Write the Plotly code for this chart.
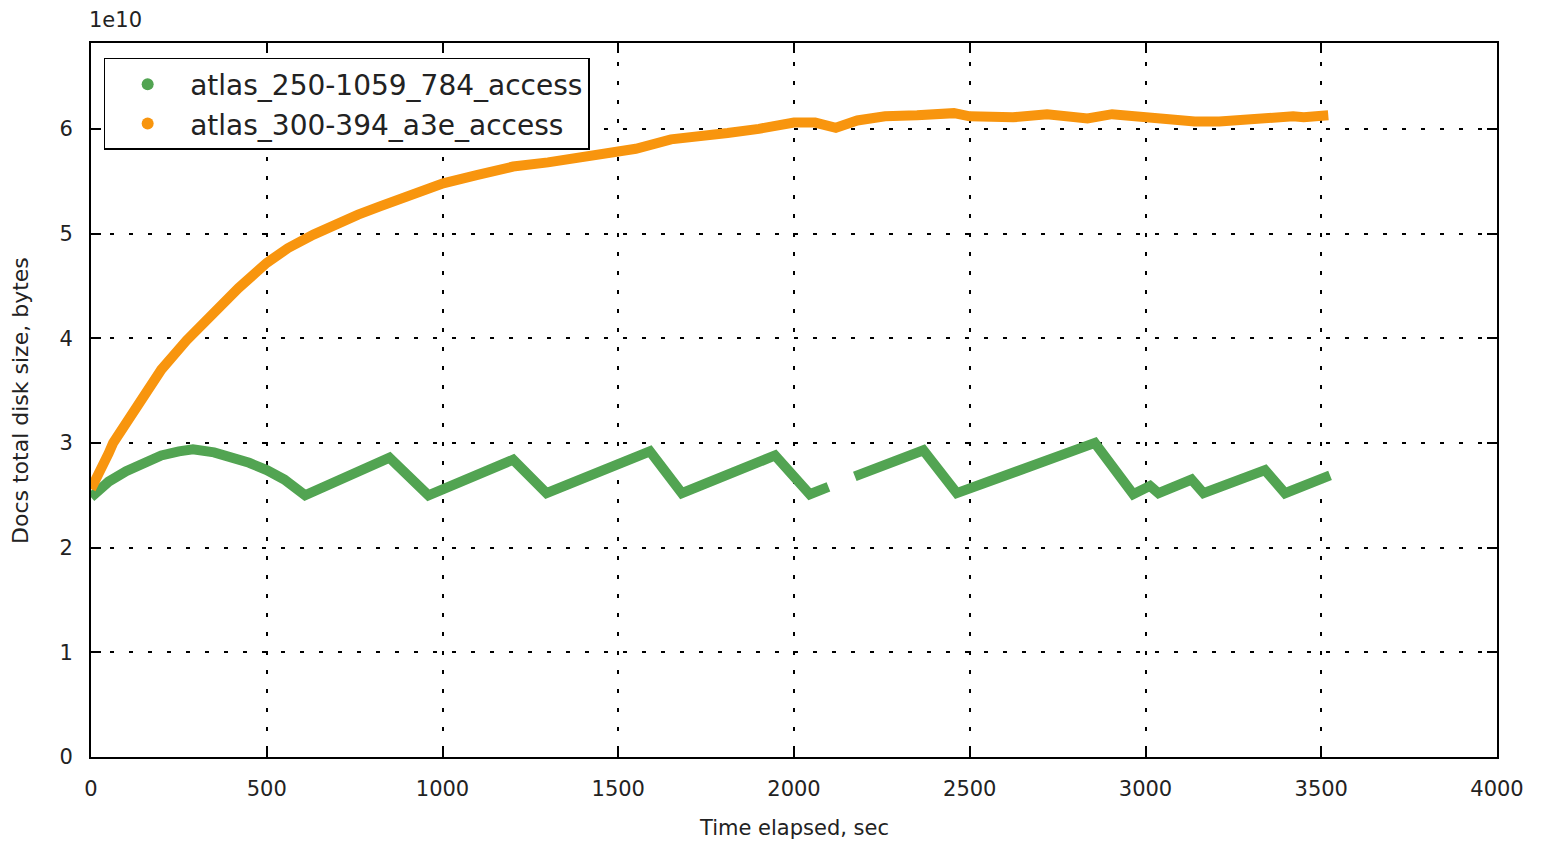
import plotly.graph_objects as go

# ---- data (sizes in units of 1e10 bytes) ----
green_name = "atlas_250-1059_784_access"
green_t = [0, 25, 50, 100, 150, 200, 250, 290, 350, 400, 450, 500, 550, 609,
           849, 960, 1201, 1296, 1590, 1681, 1946, 2045, 2098, None,
           2173, 2368, 2463, 2856, 2965, 3013, 3037, 3131, 3165, 3340, 3397, 3525]
green_v = [2.48, 2.57, 2.63, 2.73, 2.81, 2.88, 2.92, 2.94, 2.91, 2.87, 2.81, 2.74, 2.65, 2.50,
           2.86, 2.50, 2.84, 2.52, 2.92, 2.52, 2.88, 2.51, 2.58, None,
           2.68, 2.93, 2.52, 3.00, 2.51, 2.59, 2.52, 2.65, 2.52, 2.74, 2.52, 2.69]

orange_name = "atlas_300-394_a3e_access"
orange_t = [0, 10, 25, 50, 63, 100, 139, 200, 272, 348, 420, 500, 560, 633, 700, 760,
            822, 900, 1002, 1100, 1201, 1300, 1382, 1467, 1550, 1650, 1750, 1811, 1900,
            1950, 2000, 2060, 2119, 2180, 2259, 2350, 2455, 2500, 2623, 2720, 2835, 2905,
            3000, 3070, 3140, 3210, 3280, 3350, 3420, 3450, 3520]
orange_v = [2.56, 2.62, 2.75, 2.90, 3.00, 3.20, 3.41, 3.70, 3.98, 4.24, 4.48, 4.72, 4.86, 4.99,
            5.10, 5.18, 5.26, 5.36, 5.48, 5.56, 5.64, 5.68, 5.73, 5.77, 5.81, 5.90, 5.93,
            5.96, 6.00, 6.03, 6.06, 6.06, 6.01, 6.08, 6.12, 6.13, 6.15, 6.12, 6.11, 6.14,
            6.10, 6.14, 6.11, 6.07, 6.07, 6.07, 6.09, 6.11, 6.12, 6.11, 6.13]

x_ticks = [0, 500, 1000, 1500, 2000, 2500, 3000, 3500, 4000]
y_ticks = [0, 1, 2, 3, 4, 5, 6]

GREEN = "#52a452"
ORANGE = "#f8950e"
FONT = "DejaVu Sans"

fig = go.Figure()
fig.add_trace(go.Scatter(x=green_t, y=green_v, mode="lines", showlegend=False,
                         line=dict(color=GREEN, width=10), connectgaps=False))
fig.add_trace(go.Scatter(x=orange_t, y=orange_v, mode="lines", showlegend=False,
                         line=dict(color=ORANGE, width=10)))
# legend entries (dot markers)
fig.add_trace(go.Scatter(x=[None], y=[None], mode="markers", name=green_name,
                         marker=dict(color=GREEN, size=12)))
fig.add_trace(go.Scatter(x=[None], y=[None], mode="markers", name=orange_name,
                         marker=dict(color=ORANGE, size=12)))

axis_common = dict(showline=True, linecolor="black", linewidth=2, mirror="ticks",
                   ticks="inside", ticklen=10, tickwidth=1.5, tickcolor="black",
                   showgrid=True, gridcolor="black", gridwidth=1.5, griddash="4px,15px",
                   zeroline=False, tickfont=dict(family=FONT, size=21, color="#222"))

fig.update_xaxes(range=[0, 4000], tickvals=x_ticks, ticklabelstandoff=12, **axis_common)
fig.update_yaxes(range=[0, 6.82], tickvals=y_ticks, ticklabelstandoff=12, **axis_common)

fig.update_layout(
    width=1531, height=835,
    margin=dict(l=83, r=42, t=35, b=86),
    paper_bgcolor="white", plot_bgcolor="white",
    font=dict(family=FONT, color="#222"),
    legend=dict(x=0.009, y=0.979, xanchor="left", yanchor="top",
                bordercolor="black", borderwidth=1.5, bgcolor="white",
                font=dict(family=FONT, size=28, color="#222"),
                itemwidth=75),
    annotations=[
        dict(text="1e10", xref="paper", yref="paper", x=-0.003, y=1.032,
             xanchor="left", yanchor="middle", showarrow=False,
             font=dict(family=FONT, size=21, color="#222")),
        dict(text="Time elapsed, sec", xref="paper", yref="paper", x=0.5, y=-0.1,
             xanchor="center", yanchor="middle", showarrow=False,
             font=dict(family=FONT, size=21, color="#222")),
        dict(text="Docs total disk size, bytes", xref="paper", yref="paper",
             x=-0.0505, y=0.5, xanchor="center", yanchor="middle", showarrow=False,
             textangle=-90, font=dict(family=FONT, size=22, color="#222")),
    ],
)

fig.write_html("out.html")
